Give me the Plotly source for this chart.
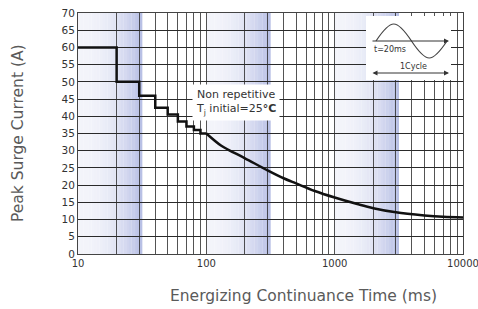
import numpy as np
import plotly.graph_objects as go

# ---- data ----
step_t = [10, 20, 30, 40, 50, 60, 70, 80, 90, 100]
step_a = [60, 50, 46, 42.5, 40.5, 38.5, 37, 36, 35, 35]
curve_t = [100, 130, 150, 200, 300, 400, 500, 700, 1000, 1500, 2000, 3000, 5000, 7000, 10000]
curve_a = [35, 31.5, 30.2, 27.8, 24.3, 22.0, 20.5, 18.3, 16.4, 14.5, 13.3, 12.1, 11.2, 10.8, 10.6]
x_tick_vals = [m * 10 ** d for d in (1, 2, 3) for m in range(1, 10)] + [10000]
x_label_vals = [10, 100, 1000, 10000]
y_tick_vals = list(range(0, 75, 5))
band_decades = [1, 2, 3]          # shaded half-decade bands start at 10^d
note_lines = ["Non repetitive", "T<sub>j</sub> initial=25<b>°C</b>"]

x_tick_text = [str(v) if v in x_label_vals else "" for v in x_tick_vals]

# ---- layout geometry (window pixels) ----
W, H = 478, 309
PX0, PX1, PY0, PY1 = 78, 463, 13, 254   # plot area
L, R, T, B = PX0, W - PX1, PY0, H - PY1
PW, PH = PX1 - PX0, PY1 - PY0


def X(px):
    return (px - PX0) / PW


def Y(py):
    return (PY1 - py) / PH


fig = go.Figure()
fig.add_trace(go.Scatter(x=step_t, y=step_a, mode="lines", line=dict(color="#111", width=2.5, shape="hv"),
                         hoverinfo="skip", showlegend=False))
fig.add_trace(go.Scatter(x=curve_t, y=curve_a, mode="lines", line=dict(color="#111", width=2.5, shape="spline"),
                         hoverinfo="skip", showlegend=False))

shapes = []
# gradient bands
N = 24
c0 = np.array([244, 245, 251])
c1 = np.array([182, 190, 229])
for d in band_decades:
    for i in range(N):
        f = (i + 0.5) / N
        c = c0 + (c1 - c0) * f ** 2.2
        x0 = (d - 1 + 0.5 * i / N) / 3
        x1 = (d - 1 + 0.5 * (i + 1) / N) / 3
        shapes.append(dict(type="rect", xref="paper", yref="paper", x0=x0, x1=x1 + 0.0005, y0=0, y1=1,
                           fillcolor="rgb(%d,%d,%d)" % tuple(c), line=dict(width=0), layer="below"))

# inset box
shapes.append(dict(type="rect", xref="paper", yref="paper", x0=X(366), x1=X(451), y0=Y(80), y1=Y(16),
                   fillcolor="white", line=dict(width=0), layer="above"))
# sine icon
xs, xe, yc, amp = 376, 447, 41, 17
hw = (xe - xs) / 2
b = 4 * amp / 3
a = 4 / (3 * np.pi) * hw


def P(px, py):
    return "%.5f,%.5f" % (X(px), Y(py))


path = ("M " + P(xs, yc) +
        " C " + P(xs + a, yc - b) + " " + P(xs + hw - a, yc - b) + " " + P(xs + hw, yc) +
        " C " + P(xs + hw + a, yc + b) + " " + P(xe - a, yc + b) + " " + P(xe, yc))
shapes.append(dict(type="path", xref="paper", yref="paper", path=path,
                   line=dict(color="#444", width=1.2), layer="above"))

annotations = []
# arrows in inset
annotations.append(dict(xref="paper", yref="paper", x=X(449), y=Y(41), ax=-78, ay=0, text="",
                        showarrow=True, arrowhead=2, arrowsize=1, arrowwidth=1, arrowcolor="#333"))
annotations.append(dict(xref="paper", yref="paper", x=X(449), y=Y(73), ax=-78, ay=0, text="",
                        showarrow=True, arrowhead=2, arrowside="end+start", arrowsize=1, arrowwidth=1,
                        arrowcolor="#333"))
annotations.append(dict(xref="paper", yref="paper", x=X(390), y=Y(49), xanchor="center", yanchor="middle",
                        text="t=20ms", showarrow=False,
                        font=dict(family="DejaVu Sans", size=8, color="#333")))
annotations.append(dict(xref="paper", yref="paper", x=X(413), y=Y(66), xanchor="center", yanchor="middle",
                        text="1Cycle", showarrow=False,
                        font=dict(family="DejaVu Sans", size=8, color="#333")))
# note box
annotations.append(dict(xref="paper", yref="paper", x=X(192), y=Y(84), xanchor="left", yanchor="top",
                        text="<br>".join(note_lines), align="left", showarrow=False, bgcolor="white",
                        borderpad=3, font=dict(family="DejaVu Sans", size=11, color="#333")))
# axis titles
annotations.append(dict(xref="paper", yref="paper", x=X(303), y=Y(296), xanchor="center", yanchor="middle",
                        text="Energizing Continuance Time (ms)",
                        showarrow=False, font=dict(family="DejaVu Sans", size=15.5, color="#5a5a5a")))
annotations.append(dict(xref="paper", yref="paper", x=X(18), y=Y(133), xanchor="center", yanchor="middle",
                        text="Peak Surge Current (A)",
                        textangle=-90, showarrow=False, font=dict(family="DejaVu Sans", size=15.5, color="#5a5a5a")))

fig.update_layout(
    width=W, height=H, autosize=False, margin=dict(l=L, r=R, t=T, b=B, autoexpand=False),
    paper_bgcolor="white", plot_bgcolor="white",
    shapes=shapes, annotations=annotations, showlegend=False,
    xaxis=dict(type="log", range=[1, 4], tickmode="array", tickvals=x_tick_vals, ticktext=x_tick_text,
               automargin=False,
               showgrid=True, gridcolor="rgba(40,40,40,0.8)", gridwidth=1, zeroline=False,
               showline=True, linecolor="#444", linewidth=1, mirror=True, ticks="",
               ticklabeloverflow="allow",
               tickfont=dict(family="DejaVu Sans", size=10, color="#333")),
    yaxis=dict(range=[0, 70], tickmode="array", tickvals=y_tick_vals, automargin=False,
               showgrid=True, gridcolor="#2a2a2a", gridwidth=1, zeroline=False,
               showline=True, linecolor="#444", linewidth=1, mirror=True, ticks="",
               ticklabeloverflow="allow",
               tickfont=dict(family="DejaVu Sans", size=10.5, color="#333")),
)

fig.write_html("out.html",
               config={"responsive": False, "displayModeBar": False, "staticPlot": True},
               post_script="document.body.style.margin='0';document.body.style.overflow='hidden';")
